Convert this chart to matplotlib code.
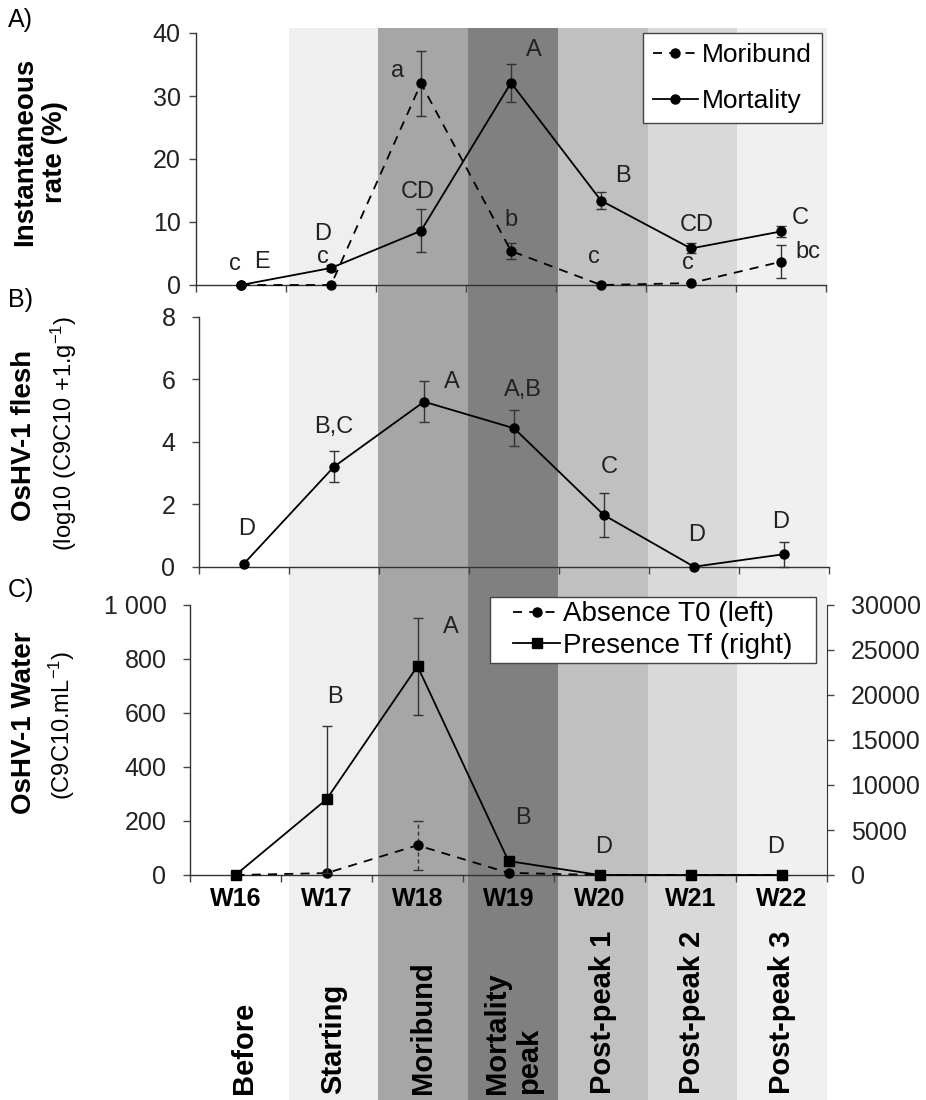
import numpy as np
import matplotlib.pyplot as plt
from matplotlib.patches import Rectangle
from matplotlib.ticker import FuncFormatter

plt.rcParams['font.family'] = ['Liberation Sans', 'DejaVu Sans']
plt.rcParams['mathtext.default'] = 'regular'

# ============= Data
weeks = ['W16', 'W17', 'W18', 'W19', 'W20', 'W21', 'W22']
stages = ['Before', 'Starting', 'Moribund', 'Mortality\npeak',
          'Post-peak 1', 'Post-peak 2', 'Post-peak 3']
stage_colors = ['#ffffff', '#efefef', '#a6a6a6', '#808080', '#c0c0c0', '#d9d9d9', '#f0f0f0']

# A) instantaneous rate (%)
moribund = [0, 0, 32.0, 5.4, 0, 0.3, 3.7]
moribund_err = [0, 0, 5.1, 1.3, 0, 0, 2.6]
moribund_letters = ['c', 'c', 'a', 'b', 'c', 'c', 'bc']
mortality = [0, 2.7, 8.6, 32.1, 13.4, 5.8, 8.5]
mortality_err = [0, 0.4, 3.4, 3.0, 1.3, 0.8, 0.9]
mortality_letters = ['E', 'D', 'CD', 'A', 'B', 'CD', 'C']

# B) OsHV-1 in flesh
flesh = [0.1, 3.2, 5.28, 4.43, 1.65, 0.0, 0.4]
flesh_err = [0, 0.5, 0.65, 0.58, 0.7, 0, 0.4]
flesh_letters = ['D', 'B,C', 'A', 'A,B', 'C', 'D', 'D']

# C) OsHV-1 in water
absence_t0 = [0, 7, 110, 8, 0, 0, 0]
absence_err = [0, 0, 90, 0, 0, 0, 0]
presence_tf = [0, 8400, 23200, 1550, 0, 0, 0]
presence_err = [0, 8200, 5400, 400, 0, 0, 0]
water_letters = ['', 'B', 'A', 'B', 'D', '', 'D']

# letter offsets (pixels) from the data point
moribund_off = [(-6, 21), (-8, 28), (-23, 12), (0, 31), (-7, 28), (-3, 20), (27, 10)]
mortality_off = [(21, 23), (-8, 34), (-3, 39), (23, 33), (22, 25), (6, 23), (19, 13)]
flesh_off = [(3, 35), (0, 40), (28, 20), (9, 38), (5, 48), (3, 32), (-3, 32)]
water_off = [(0, 0), (8, 102), (33, 39), (14, 43), (4, 28), (0, 0), (-6, 28)]

x = np.arange(len(weeks))
W, H = 926, 1100


def box(x0, y0, x1, y1):
    return [x0 / W, 1 - y1 / H, (x1 - x0) / W, (y1 - y0) / H]


def style(ax, pad):
    ax.patch.set_visible(False)
    ax.set_xlim(-0.5, 6.5)
    ax.spines['top'].set_visible(False)
    ax.spines['right'].set_visible(False)
    for s in ax.spines.values():
        s.set_color('#333333')
        s.set_linewidth(1)
    ax.set_xticks(np.arange(-0.5, 7, 1))
    ax.set_xticklabels([])
    ax.tick_params(axis='both', direction='out', length=5, width=1,
                   color='#444444', labelsize=18, pad=pad, labelcolor='#222222')


def series(ax, y, err, ls, marker, label, dashed_err=False):
    line, = ax.plot(x, y, ls=ls, marker=marker, color='black', lw=1.3, ms=6.5,
                    clip_on=False, zorder=4, label=label)
    if ls == '--':
        line.set_dashes([5, 4])
    idx = np.nonzero(np.array(err))[0]
    eb = ax.errorbar(x[idx], np.array(y)[idx], yerr=np.array(err)[idx], fmt='none',
                     ecolor='#333333', elinewidth=1, capsize=3.5, capthick=1,
                     clip_on=False, zorder=3)
    if dashed_err:
        eb[2][0].set_linestyle((0, (3, 2)))
    return line


def letters(ax, y, labs, offs):
    for i, (lab, (dx, dy)) in enumerate(zip(labs, offs)):
        if lab:
            ax.annotate(lab, (i, y[i]), xytext=(dx, dy), textcoords='offset pixels',
                        ha='center', va='center', fontsize=17, color='#222222')


fig = plt.figure(figsize=(W / 100, H / 100), dpi=100)

# ============= stage bands behind all panels
bg = fig.add_axes(box(199, 28, 827, 1100), zorder=0)
bg.set_xlim(-0.5, 6.5)
bg.set_ylim(0, 1)
bg.axis('off')
for i, c in enumerate(stage_colors):
    bg.axvspan(i - 0.5, i + 0.5, color=c, lw=0)

# ============= A)
axA = fig.add_axes(box(196, 33, 826, 285), zorder=1)
style(axA, 6)
axA.set_ylim(0, 40)
axA.set_yticks([0, 10, 20, 30, 40])
lm = series(axA, moribund, moribund_err, '--', 'o', 'Moribund')
lt = series(axA, mortality, mortality_err, '-', 'o', 'Mortality')
letters(axA, moribund, moribund_letters, moribund_off)
letters(axA, mortality, mortality_letters, mortality_off)
legA = axA.legend(handles=[lm, lt], loc='upper right', bbox_to_anchor=(0.9937, 1.0),
                  borderaxespad=0, fontsize=19, fancybox=False, edgecolor='#444444',
                  framealpha=1, handlelength=1.7, handletextpad=0.15,
                  labelspacing=0.82, borderpad=0.39)
legA.get_frame().set_linewidth(1)

# ============= B)
axB = fig.add_axes(box(199, 316.7, 829, 566.7), zorder=1)
style(axB, 12)
axB.set_ylim(0, 8)
axB.set_yticks([0, 2, 4, 6, 8])
series(axB, flesh, flesh_err, '-', 'o', 'flesh')
letters(axB, flesh, flesh_letters, flesh_off)

# ============= C)
axC = fig.add_axes(box(190, 605, 827, 875), zorder=1)
style(axC, 12)
axC.set_ylim(0, 1000)
axC.set_yticks(range(0, 1001, 200))
axC.yaxis.set_major_formatter(FuncFormatter(lambda v, p: f'{int(v):,}'.replace(',', ' ')))
axC.set_xticks(x, minor=True)
axC.set_xticklabels(weeks, minor=True, fontweight='bold', fontsize=18)
axC.tick_params(axis='x', which='minor', length=0, pad=9)

axC2 = axC.twinx()
axC2.set_zorder(2)
axC2.patch.set_visible(False)
axC2.set_ylim(0, 30000)
axC2.set_yticks(range(0, 30001, 5000))
for k in ['top', 'left', 'bottom']:
    axC2.spines[k].set_visible(False)
axC2.spines['right'].set_color('#333333')
axC2.tick_params(axis='y', direction='out', length=5, width=1, color='#444444',
                 labelsize=18, pad=12, labelcolor='#222222')

la = series(axC, absence_t0, absence_err, '--', 'o', 'Absence T0 (left)', dashed_err=True)
lp = series(axC2, presence_tf, presence_err, '-', 's', 'Presence Tf (right)')
letters(axC2, presence_tf, water_letters, water_off)

# legend C: white box drawn by hand (wider than matplotlib's padding allows)
fig.add_artist(Rectangle((490 / W, 1 - 663 / H), 326 / W, 66 / H, transform=fig.transFigure,
                         facecolor='white', edgecolor='#444444', lw=1, zorder=1.5))
legC = axC2.legend(handles=[la, lp], loc='center left',
                   bbox_to_anchor=(513 / W, 1 - 630 / H), bbox_transform=fig.transFigure,
                   borderaxespad=0, fontsize=20, frameon=False, handlelength=1.7,
                   handletextpad=0.1, labelspacing=0.2, borderpad=0)

# ============= axis titles and panel tags
fig.text(40 / W, 1 - 152 / H, 'Instantaneous\nrate (%)', rotation=90, ha='center',
         va='center', fontsize=20, fontweight='bold', multialignment='center')
fig.text(24 / W, 1 - 435 / H, 'OsHV-1 flesh', rotation=90, ha='center', va='center',
         fontsize=20, fontweight='bold')
fig.text(64 / W, 1 - 433 / H, '(log10 (C9C10 +1.g$^{-1}$)', rotation=90, ha='center',
         va='center', fontsize=17)
fig.text(24 / W, 1 - 723 / H, 'OsHV-1 Water', rotation=90, ha='center', va='center',
         fontsize=20, fontweight='bold')
fig.text(62 / W, 1 - 725 / H, '(C9C10.mL$^{-1}$)', rotation=90, ha='center',
         va='center', fontsize=17)
for tag, yy in zip(['A)', 'B)', 'C)'], [20, 300, 590]):
    fig.text(8 / W, 1 - yy / H, tag, ha='left', va='center', fontsize=18)

# ============= stage names under the weeks
for i, s in enumerate(stages):
    fig.text((199 + 89.7 * (i + 0.5)) / W, 1 - 1094 / H, s, rotation=90, ha='center',
             va='bottom', fontsize=21, fontweight='bold', multialignment='left')

fig.savefig('out.png', dpi=100)
